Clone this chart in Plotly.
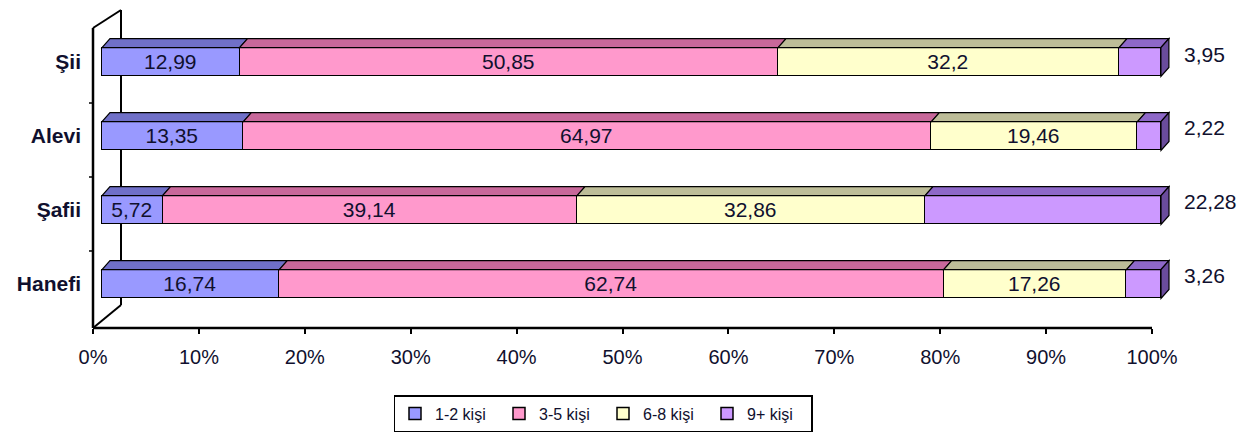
import plotly.graph_objects as go

# ---- data ----
categories = ["Hanefi", "Şafii", "Alevi", "Şii"]
series_names = ["1-2 kişi", "3-5 kişi", "6-8 kişi", "9+ kişi"]
v_1_2 = [16.74, 5.72, 13.35, 12.99]
v_3_5 = [62.74, 39.14, 64.97, 50.85]
v_6_8 = [17.26, 32.86, 19.46, 32.2]
v_9p = [3.26, 22.28, 2.22, 3.95]
tick_vals = [0, 10, 20, 30, 40, 50, 60, 70, 80, 90, 100]
tick_text = [f"{t}%" for t in tick_vals]

series_values = [v_1_2, v_3_5, v_6_8, v_9p]

# ---- styles ----
front_colors = ["#9999FF", "#FF99CC", "#FFFFCC", "#CC99FF"]
top_colors = ["#7070C8", "#C8689A", "#BDBD98", "#8E68C8"]
side_color = "#6A4C9C"
text_color = "#10102E"
FONT = "Liberation Sans, Arial, sans-serif"

W, H = 1257, 441
X_MIN, X_MAX = -0.85, 100.85
PX_L, PX_R = 93, 1170          # x domain in pixels
PY_T, PY_B = 10, 328           # y domain in pixels
Y_MIN, Y_MAX = -0.595, 3.703
ppu_x = (PX_R - PX_L) / (X_MAX - X_MIN)
ppu_y = (PY_B - PY_T) / (Y_MAX - Y_MIN)
BAR_W = 0.39
DX = 8 / ppu_x
DY = 9 / ppu_y

ys = list(range(len(categories)))


def fmt(v):
    return f"{v:g}".replace(".", ",")


fig = go.Figure()
for k, (name, vals) in enumerate(zip(series_names, series_values)):
    last = k == len(series_names) - 1
    fig.add_trace(go.Bar(
        name=name, orientation="h", x=vals, y=ys, width=BAR_W,
        marker=dict(color=front_colors[k], line=dict(color="black", width=1.5)),
        text=None if last else [fmt(v) for v in vals],
        textposition="inside", insidetextanchor="middle",
        constraintext="none",
        textfont=dict(family=FONT, size=21, color=text_color),
        hoverinfo="skip",
    ))

shapes = []
# 3D top faces and end side faces
for i in ys:
    start = 0.0
    ytop = i + BAR_W / 2
    for k, vals in enumerate(series_values):
        a, b = start, start + vals[i]
        shapes.append(dict(
            type="path", xref="x", yref="y", layer="above",
            path=(f"M{a},{ytop} L{b},{ytop} L{b+DX},{ytop+DY} "
                  f"L{a+DX},{ytop+DY} Z"),
            fillcolor=top_colors[k], line=dict(color="black", width=1.2)))
        start = b
    e = start
    ybot = i - BAR_W / 2
    shapes.append(dict(
        type="path", xref="x", yref="y", layer="above",
        path=(f"M{e},{ybot} L{e},{ytop} L{e+DX},{ytop+DY} "
              f"L{e+DX},{ybot+DY} Z"),
        fillcolor=side_color, line=dict(color="black", width=1.2)))


def px(x):
    return x / W


def py(y):
    return 1 - y / H


# wall / floor frame
wall = [((93, 28), (93, 328), 2.5), ((121, 10), (121, 305), 2),
        ((93, 28), (121, 10), 2), ((93, 328), (121, 305), 2)]
for (x0, y0), (x1, y1), lw in wall:
    shapes.append(dict(type="line", xref="paper", yref="paper", layer="below",
                       x0=px(x0), y0=py(y0), x1=px(x1), y1=py(y1),
                       line=dict(color="black", width=lw)))
shapes.append(dict(type="line", xref="x2", yref="paper", x0=0, x1=100,
                   y0=py(328), y1=py(328), line=dict(color="black", width=2.5)))
# small category separator ticks on the wall
for i in ys[:-1]:
    yb = i + 0.5 - 4 / ppu_y
    shapes.append(dict(type="line", xref="paper", yref="y",
                       x0=px(89), x1=px(93), y0=yb, y1=yb,
                       line=dict(color="black", width=1.5)))

annotations = []
for i in ys:
    total = sum(vals[i] for vals in series_values)
    annotations.append(dict(
        x=total, y=i, xref="x", yref="y", text=fmt(v_9p[i]),
        showarrow=False, xanchor="left", xshift=21, yshift=8,
        font=dict(family=FONT, size=21, color=text_color)))

fig.update_layout(
    width=W, height=H, margin=dict(l=0, r=0, t=0, b=0, autoexpand=False),
    paper_bgcolor="white", plot_bgcolor="rgba(0,0,0,0)",
    barmode="stack", bargap=0,
    showlegend=True,
    legend=dict(orientation="h", x=603 / W, xanchor="center",
                y=py(395), yanchor="top", traceorder="normal",
                entrywidth=59, entrywidthmode="pixels",
                bordercolor="black", borderwidth=1.5, bgcolor="white",
                font=dict(family=FONT, size=16, color=text_color)),
    xaxis=dict(domain=[px(PX_L), px(PX_R)], range=[X_MIN, X_MAX],
               automargin=False,
               showgrid=False, zeroline=False, showline=False,
               showticklabels=False, ticks="", fixedrange=True),
    xaxis2=dict(overlaying="x", anchor="y", side="bottom", automargin=False,
                range=[0, X_MAX - X_MIN], showgrid=False, zeroline=False,
                showline=False, tickmode="array", tickvals=tick_vals,
                ticktext=tick_text, ticks="outside", ticklen=5, tickwidth=2,
                tickcolor="black", ticklabelstandoff=6,
                tickfont=dict(family=FONT, size=20, color=text_color)),
    yaxis=dict(domain=[py(PY_B), py(PY_T)], range=[Y_MIN, Y_MAX],
               automargin=False,
               tickmode="array", tickvals=ys, ticktext=categories,
               showgrid=False, zeroline=False, showline=False, ticks="",
               ticklabelstandoff=11,
               tickfont=dict(family=FONT, size=21, color=text_color,
                             weight="bold")),
    shapes=shapes, annotations=annotations,
)

fig.write_html("out.html", config={"displayModeBar": False},
               post_script="document.body.style.margin='0';")
